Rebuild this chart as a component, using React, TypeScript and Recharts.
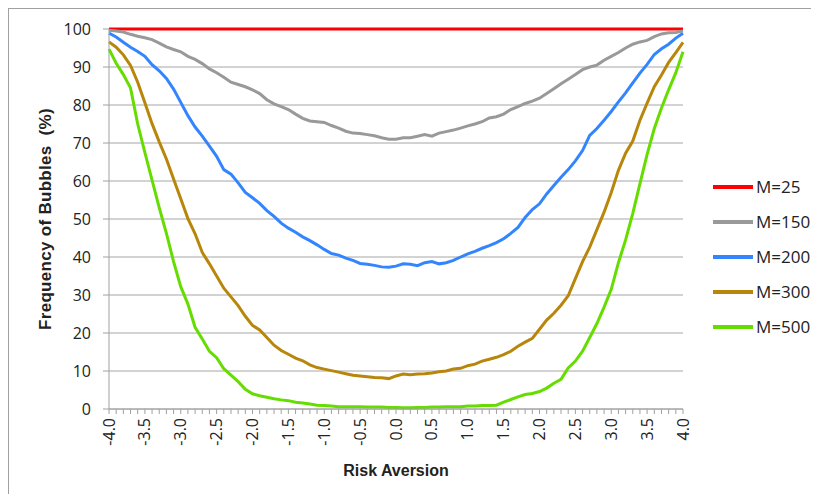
import {
  LineChart, Line, XAxis, YAxis, CartesianGrid, Legend,
} from 'recharts'

const riskAversion = [
  -4.0, -3.9, -3.8, -3.7, -3.6, -3.5, -3.4, -3.3, -3.2, -3.1,
  -3.0, -2.9, -2.8, -2.7, -2.6, -2.5, -2.4, -2.3, -2.2, -2.1,
  -2.0, -1.9, -1.8, -1.7, -1.6, -1.5, -1.4, -1.3, -1.2, -1.1,
  -1.0, -0.9, -0.8, -0.7, -0.6, -0.5, -0.4, -0.3, -0.2, -0.1,
  0.0, 0.1, 0.2, 0.3, 0.4, 0.5, 0.6, 0.7, 0.8, 0.9,
  1.0, 1.1, 1.2, 1.3, 1.4, 1.5, 1.6, 1.7, 1.8, 1.9,
  2.0, 2.1, 2.2, 2.3, 2.4, 2.5, 2.6, 2.7, 2.8, 2.9,
  3.0, 3.1, 3.2, 3.3, 3.4, 3.5, 3.6, 3.7, 3.8, 3.9,
  4.0,
]

const labelledTicks = [
  '-4.0', '-3.5', '-3.0', '-2.5', '-2.0', '-1.5', '-1.0', '-0.5', '0.0',
  '0.5', '1.0', '1.5', '2.0', '2.5', '3.0', '3.5', '4.0',
]

const yTicks = [0, 10, 20, 30, 40, 50, 60, 70, 80, 90, 100]

const m25 = [
  100, 100, 100, 100, 100, 100, 100, 100, 100, 100,
  100, 100, 100, 100, 100, 100, 100, 100, 100, 100,
  100, 100, 100, 100, 100, 100, 100, 100, 100, 100,
  100, 100, 100, 100, 100, 100, 100, 100, 100, 100,
  100, 100, 100, 100, 100, 100, 100, 100, 100, 100,
  100, 100, 100, 100, 100, 100, 100, 100, 100, 100,
  100, 100, 100, 100, 100, 100, 100, 100, 100, 100,
  100, 100, 100, 100, 100, 100, 100, 100, 100, 100,
  100,
]

const m150 = [
  99.7, 99.5, 99.2, 98.6, 98.1, 97.7, 97.2, 96.3, 95.3, 94.6,
  94.0, 92.8, 92.0, 90.9, 89.5, 88.5, 87.3, 86.0, 85.4, 84.8,
  84.0, 83.0, 81.4, 80.3, 79.6, 78.8, 77.6, 76.5, 75.8, 75.6,
  75.4, 74.6, 73.9, 73.1, 72.6, 72.5, 72.2, 71.9, 71.4, 71.0,
  71.0, 71.4, 71.4, 71.8, 72.2, 71.8, 72.6, 73.0, 73.4, 73.9,
  74.5, 75.0, 75.6, 76.6, 76.9, 77.6, 78.8, 79.6, 80.4, 81.0,
  81.8, 83.0, 84.3, 85.6, 86.8, 88.0, 89.3, 90.0, 90.5, 91.8,
  92.8, 93.8, 95.0, 96.0, 96.6, 97.0, 98.0, 98.7, 99.0, 99.1,
  99.5,
]

const m200 = [
  98.9, 97.9, 96.5, 95.2, 94.1, 92.8, 90.6, 89.0, 87.0, 84.2,
  80.7, 77.2, 74.2, 71.8, 69.2, 66.5, 63.0, 61.8, 59.5, 57.0,
  55.6, 54.1, 52.2, 50.7, 48.9, 47.6, 46.5, 45.3, 44.3, 43.2,
  42.0, 40.9, 40.5, 39.7, 39.1, 38.3, 38.1, 37.8, 37.4, 37.3,
  37.6, 38.2, 38.1, 37.7, 38.5, 38.8, 38.2, 38.5, 39.1, 40.0,
  40.8, 41.5, 42.3, 43.0, 43.8, 44.8, 46.2, 47.8, 50.4, 52.5,
  54.0, 56.6, 58.8, 61.0, 63.0, 65.3, 68.0, 72.0, 73.8, 76.0,
  78.3, 80.8, 83.2, 85.8, 88.4, 90.7, 93.3, 94.8, 96.0, 97.6,
  98.9,
]

const m300 = [
  96.6, 95.2, 93.2, 90.4, 86.0, 80.6, 75.1, 70.3, 65.8, 60.5,
  55.3, 50.1, 46.1, 41.2, 38.2, 35.0, 31.8, 29.5, 27.2, 24.4,
  22.0, 20.8, 18.8, 16.8, 15.4, 14.4, 13.4, 12.7, 11.6, 10.9,
  10.5, 10.1, 9.7, 9.3, 8.9, 8.7, 8.5, 8.3, 8.2, 8.0,
  8.7, 9.2, 9.0, 9.2, 9.3, 9.5, 9.8, 10.0, 10.5, 10.7,
  11.4, 11.8, 12.6, 13.1, 13.6, 14.3, 15.2, 16.5, 17.6, 18.6,
  21.0, 23.4, 25.2, 27.3, 29.8, 34.3, 38.8, 42.6, 47.2, 51.8,
  57.0, 62.8, 67.3, 70.5, 76.0, 80.5, 84.8, 87.9, 91.2, 93.8,
  96.5,
]

const m500 = [
  94.7, 91.0, 88.0, 84.5, 75.0, 67.5, 60.2, 53.0, 46.2, 38.8,
  32.2, 27.6, 21.5, 18.4, 15.2, 13.5, 10.6, 8.9, 7.2, 5.2,
  4.0, 3.5, 3.1, 2.7, 2.4, 2.2, 1.8, 1.6, 1.3, 1.0,
  0.9, 0.8, 0.6, 0.6, 0.6, 0.6, 0.5, 0.5, 0.5, 0.4,
  0.4, 0.3, 0.3, 0.4, 0.4, 0.5, 0.5, 0.6, 0.6, 0.6,
  0.8, 0.8, 0.9, 0.9, 1.0, 1.8, 2.5, 3.2, 3.8, 4.1,
  4.6, 5.5, 6.8, 7.8, 10.8, 12.6, 15.2, 18.8, 22.5, 26.8,
  31.5, 38.5, 44.5, 51.5, 59.3, 67.0, 73.8, 79.2, 84.0, 88.5,
  94.0,
]

const data = riskAversion.map((x, i) => ({
  x,
  m25: m25[i],
  m150: m150[i],
  m200: m200[i],
  m300: m300[i],
  m500: m500[i],
}))

const series = [
  { key: 'm25', name: 'M=25', color: '#ff0000' },
  { key: 'm150', name: 'M=150', color: '#999999' },
  { key: 'm200', name: 'M=200', color: '#3385ff' },
  { key: 'm300', name: 'M=300', color: '#b8860b' },
  { key: 'm500', name: 'M=500', color: '#66dd00' },
]

const FONT = '"Open Sans", sans-serif'
const BOLD_FONT = '"Liberation Sans", sans-serif'
const AXIS = '#a0a0a0'

function XTick(props: any) {
  const { x, y, payload } = props
  const label = Number(payload.value).toFixed(1)
  if (!labelledTicks.includes(label)) return null
  return (
    <text
      x={x}
      y={y}
      dy={5.5}
      transform={`rotate(-90, ${x}, ${y})`}
      textAnchor="end"
      fontFamily={FONT}
      fontSize={16}
      fill="#222"
    >
      {label}
    </text>
  )
}

function LegendBox() {
  return (
    <div style={{ fontFamily: FONT, fontSize: 17, color: '#222' }}>
      {series.map((s) => (
        <div
          key={s.key}
          style={{ display: 'flex', alignItems: 'center', height: 35 }}
        >
          <div style={{ width: 40, height: 4, background: s.color, marginRight: 3 }} />
          <span>{s.name}</span>
        </div>
      ))}
    </div>
  )
}

export default function App() {
  return (
    <div
      style={{
        width: 811,
        height: 486,
        borderTop: `1px solid ${AXIS}`,
        borderLeft: `1px solid ${AXIS}`,
        boxSizing: 'border-box',
        background: '#fff',
      }}
    >
      <LineChart
        width={810}
        height={485}
        data={data}
        margin={{ top: 20, right: 136, bottom: 15, left: 0 }}
      >
        <CartesianGrid vertical={false} stroke="#a6a6a6" />
        <XAxis
          dataKey="x"
          type="number"
          domain={[-4, 4]}
          ticks={riskAversion}
          interval={0}
          height={70}
          stroke={AXIS}
          tickSize={5}
          tickMargin={4}
          tick={<XTick />}
          label={{
            value: 'Risk Aversion',
            position: 'insideBottom',
            offset: 3,
            style: { fontFamily: BOLD_FONT, fontWeight: 'bold', fontSize: 16, fill: '#222' },
          }}
        />
        <YAxis
          type="number"
          domain={[0, 100]}
          ticks={yTicks}
          interval={0}
          width={100}
          stroke={AXIS}
          tickSize={6}
          tickMargin={12}
          tick={{ fontFamily: FONT, fontSize: 16, fill: '#222' }}
          label={{
            value: 'Frequency of Bubbles\u00a0 (%)',
            angle: -90,
            position: 'insideLeft',
            offset: 36,
            style: { textAnchor: 'middle', fontFamily: BOLD_FONT, fontWeight: 'bold', fontSize: 17, letterSpacing: 0.3, fill: '#222' },
          }}
        />
        <Legend
          layout="horizontal"
          verticalAlign="middle"
          align="center"
          content={<LegendBox />}
          wrapperStyle={{ position: 'absolute', left: 704, top: 160, width: 110 }}
        />
        {series.map((s) => (
          <Line
            key={s.key}
            dataKey={s.key}
            name={s.name}
            stroke={s.color}
            strokeWidth={3}
            dot={false}
            type="linear"
            isAnimationActive={false}
          />
        ))}
      </LineChart>
    </div>
  )
}
